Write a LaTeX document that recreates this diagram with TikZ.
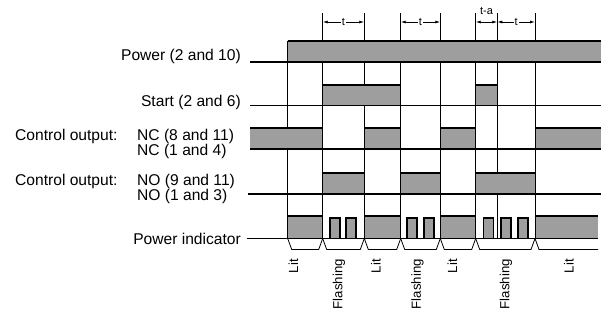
\documentclass[tikz,border=0pt]{standalone}
\usepackage{fontspec}
\setmainfont{Liberation Sans}
\usetikzlibrary{arrows.meta}
\tikzset{
  grid/.style={line width=0.8pt},
  hatch/.style={fill=black!38},
  hiedge/.style={line width=2pt},
  baseln/.style={line width=1.1pt},
  pulse/.style={fill=black!38, draw=black, line width=1.1pt},
  dim/.style={line width=0.8pt, {Latex[length=5pt,width=3pt]}-{Latex[length=5pt,width=3pt]}},
  lbl/.style={font=\fontsize{15.6}{15}\selectfont, inner sep=0pt},
  state/.style={font=\fontsize{13.2}{13}\selectfont, rotate=90, anchor=east, inner sep=0pt},
  tlbl/.style={font=\fontsize{11}{11}\selectfont, inner sep=1pt},
}

\begin{document}
\begin{tikzpicture}[x=1pt,y=-1pt]
  \useasboundingbox (0,0) rectangle (602,324);

  % time marks
  \draw[grid] (287.7,41) -- (287.7,238.5);
  \foreach \x in {322.7,364.3,400.7,440.3,475.7,497.3,535}
    \draw[grid] (\x,13) -- (\x,238.5);

  % intervals
  \draw[dim] (322.7,22) -- (364.3,22) node[tlbl, midway, fill=white] (t1) {t};
  \draw[dim] (400.7,22) -- (440.3,22) node[tlbl, midway, fill=white] (t2) {t};
  \draw[dim] (475.7,22) -- (497.3,22);
  \node[tlbl] (ta) at (486.5,11) {t-a};
  \draw[dim] (497.3,22) -- (535,22) node[tlbl, midway, fill=white] (t3) {t};

  % Power
  \fill[hatch] (287.7,41) rectangle (601,62);
  \draw[grid] (287.7,62) -- (287.7,41);
  \draw[hiedge] (287.7,41) -- (601,41);

  % Start
  \foreach \a/\b in {322.7/400.7,475.7/497.3} {
    \fill[hatch] (\a,85) rectangle (\b,105.5);
    \draw[grid] (\a,105.5) -- (\a,85) (\b,85) -- (\b,105.5);
    \draw[hiedge] (\a,85) -- (\b,85);
  }

  % NC
  \fill[hatch] (250,128) rectangle (322.7,149);
  \draw[grid] (322.7,128) -- (322.7,149);
  \draw[hiedge] (250,128) -- (322.7,128);
  \foreach \a/\b in {364.3/400.7,440.3/475.7} {
    \fill[hatch] (\a,128) rectangle (\b,149);
    \draw[grid] (\a,149) -- (\a,128) (\b,128) -- (\b,149);
    \draw[hiedge] (\a,128) -- (\b,128);
  }
  \fill[hatch] (535,128) rectangle (601,149);
  \draw[grid] (535,149) -- (535,128);
  \draw[hiedge] (535,128) -- (601,128);

  % NO
  \foreach \a/\b in {322.7/364.3,400.7/440.3,475.7/535} {
    \fill[hatch] (\a,173) rectangle (\b,194);
    \draw[grid] (\a,194) -- (\a,173) (\b,173) -- (\b,194);
    \draw[hiedge] (\a,173) -- (\b,173);
  }

  % Power indicator
  \foreach \a/\b in {287.7/322.7,364.3/400.7,440.3/475.7} {
    \fill[hatch] (\a,216) rectangle (\b,238.5);
    \draw[grid] (\a,238.5) -- (\a,216) (\b,216) -- (\b,238.5);
    \draw[hiedge] (\a,216) -- (\b,216);
  }
  \fill[hatch] (535,216) rectangle (598,238.5);
  \draw[grid] (535,238.5) -- (535,216);
  \draw[hiedge] (535,216) -- (598,216);
  \foreach \a in {330,346,407,424,483.5,501,518}
    \filldraw[pulse] (\a,238.5) -- (\a,218) -- (\a+10,218) -- (\a+10,238.5);

  % base lines
  \draw[baseln] (250,62) -- (601,62);
  \draw[baseln] (250,105.5) -- (601,105.5);
  \draw[baseln] (250,149) -- (601,149);
  \draw[baseln] (248,194) -- (601,194);
  \draw[baseln] (247,238.5) -- (598,238.5);

  % state brackets
  \foreach \a/\b in {287.7/322.7,322.7/364.3,364.3/400.7,400.7/440.3,440.3/475.7,475.7/535}
    \draw[grid] (\a,238.5) -- (\a+4,249.5) -- (\b-4,249.5) -- (\b,238.5);
  \draw[grid] (535,238.5) -- (539,249.5) -- (598,249.5);

  % labels
  \node[lbl, anchor=base east] (power) at (241,60) {Power (2 and 10)};
  \node[lbl, anchor=base east] (start) at (241,106) {Start (2 and 6)};
  \node[lbl, anchor=base west] (ctrlnc) at (15,140) {Control output:};
  \node[lbl, anchor=base west] (nc1) at (137,140) {NC (8 and 11)};
  \node[lbl, anchor=base west] (nc2) at (137,155) {NC (1 and 4)};
  \node[lbl, anchor=base west] (ctrlno) at (15,185) {Control output:};
  \node[lbl, anchor=base west] (no1) at (137,185) {NO (9 and 11)};
  \node[lbl, anchor=base west] (no2) at (137,200) {NO (1 and 3)};
  \node[lbl, anchor=base east] (ind) at (241,244) {Power indicator};

  \foreach \x/\t [count=\i] in {293.5/Lit,339/Flashing,376/Lit,417.5/Flashing,452.5/Lit,506/Flashing,569/Lit}
    \node[state] (state\i) at (\x,259) {\t};
\end{tikzpicture}
\end{document}
